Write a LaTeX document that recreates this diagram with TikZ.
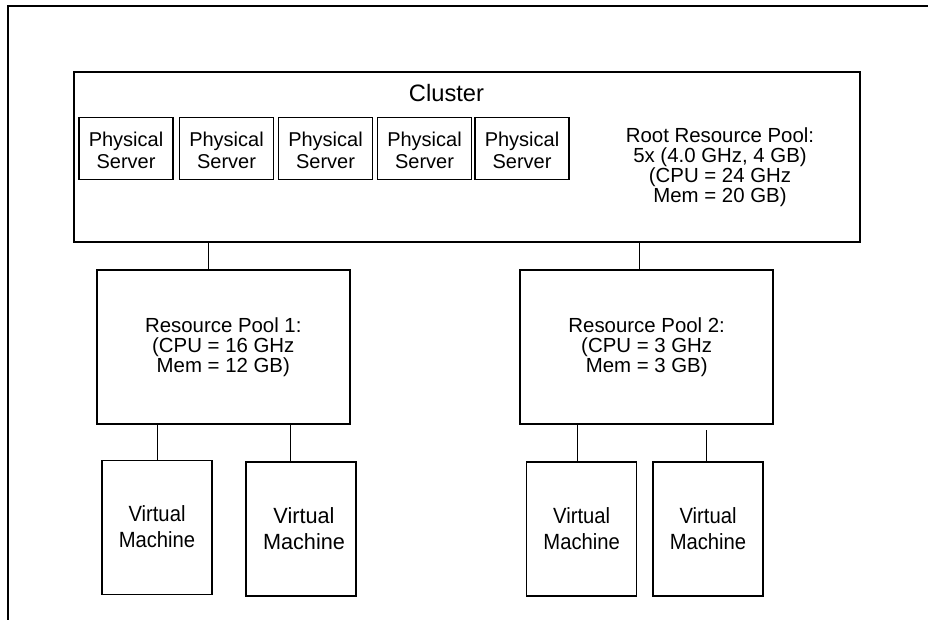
\documentclass[tikz,border=0pt]{standalone}
\usepackage{fontspec}
\setmainfont{Liberation Sans}
\usepackage{graphicx}
\newcommand{\vmlabel}[1]{\scalebox{#1}[1]{\begin{tabular}{@{}c@{}}Virtual\\Machine\end{tabular}}}
\begin{document}
\begin{tikzpicture}[x=1pt,y=-1pt,
  box/.style={draw, line width=1.3pt, inner sep=0pt},
  srvbox/.style={box, minimum width=94pt, minimum height=62pt},
  poolbox/.style={box, minimum width=253pt, minimum height=154pt},
  vmbox/.style={box, minimum width=110pt, minimum height=134pt},
  conn/.style={line width=1pt},
  txt/.style={inner sep=0pt, align=center},
  srvtxt/.style={txt, font=\fontsize{20}{21.7}\selectfont},
  pooltxt/.style={txt, font=\fontsize{20.4}{20}\selectfont},
  vmtxt/.style={txt, font=\fontsize{22}{26}\selectfont},
]
\useasboundingbox (0,0) rectangle (928,620);
% frame
\draw[line width=1.5pt] (928,6) -- (8,6) -- (8,620);

% cluster
\node[box, minimum width=786pt, minimum height=170pt] (cl) at (467,157) {};
\node[txt, font=\fontsize{23.7}{28}\selectfont] (cltitle) at (446.5,93) {Cluster};

% physical servers
\node[srvbox] (s1) at (126,148.5) {};
\node[srvbox] (s2) at (226.5,148.5) {};
\node[srvbox] (s3) at (325.5,148.5) {};
\node[srvbox] (s4) at (424.5,148.5) {};
\node[srvbox] (s5) at (522,148.5) {};
\node[srvtxt] (s1t) at (126,150.5) {Physical\\Server};
\node[srvtxt] (s2t) at (226.5,150.5) {Physical\\Server};
\node[srvtxt] (s3t) at (325.5,150.5) {Physical\\Server};
\node[srvtxt] (s4t) at (424.5,150.5) {Physical\\Server};
\node[srvtxt] (s5t) at (522,150.5) {Physical\\Server};

\node[pooltxt] (root) at (720,167) {Root Resource Pool:\\5x (4.0 GHz, 4 GB)\\(CPU = 24 GHz\\Mem = 20 GB)};

% resource pools
\node[poolbox] (rp1) at (223.5,347) {};
\node[poolbox] (rp2) at (646.5,347) {};
\node[pooltxt] (rp1t) at (223.3,347) {Resource Pool 1:\\(CPU = 16 GHz\\Mem = 12 GB)};
\node[pooltxt] (rp2t) at (646.7,347) {Resource Pool 2:\\(CPU = 3 GHz\\Mem = 3 GB)};

% virtual machines
\node[vmbox] (vm1) at (157,527.5) {};
\node[vmbox] (vm2) at (301,529) {};
\node[vmbox] (vm3) at (581.5,529) {};
\node[vmbox] (vm4) at (708,529) {};
\node[vmtxt] (vm1t) at (157,529.5) {\vmlabel{0.92}};
\node[vmtxt] (vm2t) at (304,531.5) {\vmlabel{0.985}};
\node[vmtxt] (vm3t) at (581.7,531) {\vmlabel{0.92}};
\node[vmtxt] (vm4t) at (708,531) {\vmlabel{0.92}};

% connectors
\draw[conn] ([xshift=-15.5pt]rp1.north) -- ([xshift=-15.5pt]rp1.north |- cl.south);
\draw[conn] ([xshift=-7.5pt]rp2.north) -- ([xshift=-7.5pt]rp2.north |- cl.south);
\draw[conn] (vm1.north) -- (vm1.north |- rp1.south);
\draw[conn] ([xshift=-11pt]vm2.north) -- ([xshift=-11pt]vm2.north |- rp1.south);
\draw[conn] ([xshift=-4pt]vm3.north) -- ([xshift=-4pt]vm3.north |- rp2.south);
\draw[conn] ([xshift=-2pt]vm4.north) -- ([xshift=-2pt,yshift=-5pt]vm4.north |- rp2.south);
\end{tikzpicture}
\end{document}
